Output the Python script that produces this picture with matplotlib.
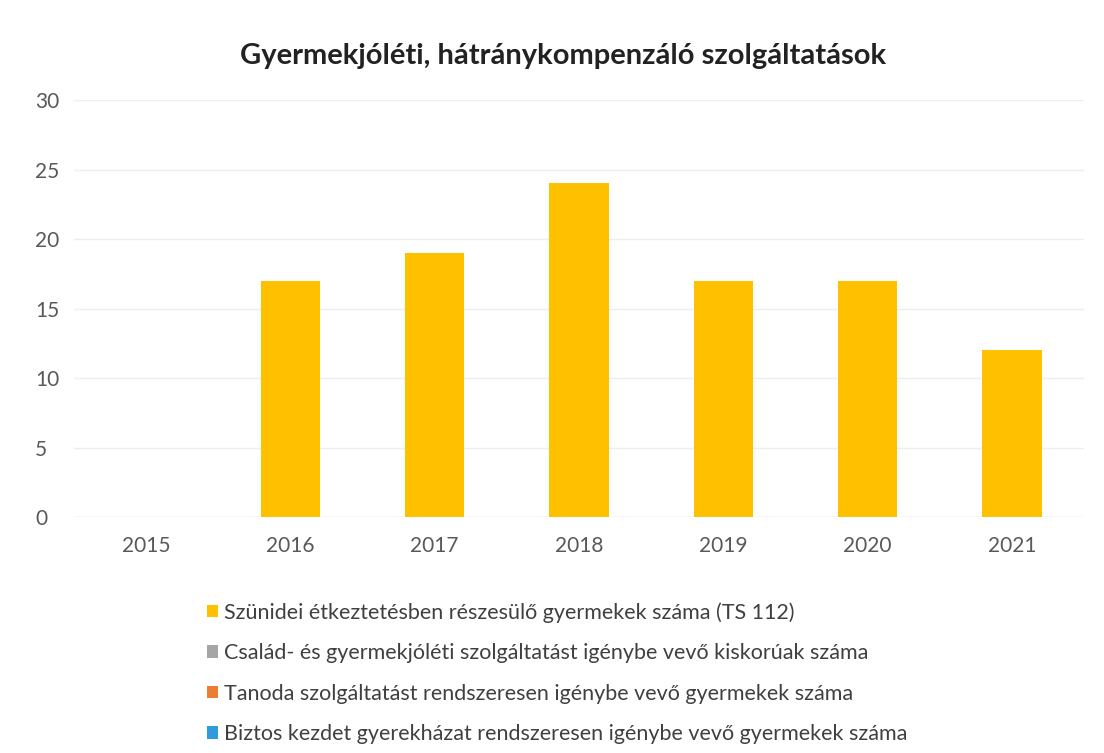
import numpy as np
import matplotlib
matplotlib.use('Agg')
import matplotlib.pyplot as plt
from matplotlib.patches import Patch

years = ['2015', '2016', '2017', '2018', '2019', '2020', '2021']
szunidei = [0, 17, 19, 24, 17, 17, 12]
csaladi = [0, 0, 0, 0, 0, 0, 0]
tanoda = [0, 0, 0, 0, 0, 0, 0]
biztos = [0, 0, 0, 0, 0, 0, 0]

labels = [
    'Szünidei étkeztetésben részesülő gyermekek száma (TS 112)',
    'Család- és gyermekjóléti szolgáltatást igénybe vevő kiskorúak száma',
    'Tanoda szolgáltatást rendszeresen igénybe vevő gyermekek száma',
    'Biztos kezdet gyerekházat rendszeresen igénybe vevő gyermekek száma',
]
colors = ['#FFC000', '#A5A5A5', '#ED7D31', '#2E9BDA']

plt.rcParams['font.family'] = ['Lato', 'DejaVu Sans']

fig = plt.figure(figsize=(11.04, 7.53), dpi=100)
fig.patch.set_facecolor('white')
ax = fig.add_axes([0.067, 0.3134, 0.915, 0.5538])

x = np.arange(len(years))
bottom = np.zeros(len(years))
for vals, col in zip([szunidei, csaladi, tanoda, biztos], colors):
    ax.bar(x, vals, width=0.41, bottom=bottom, color=col, zorder=3)
    bottom += np.array(vals)

ax.set_xlim(-0.5, len(years) - 0.5)
ax.set_ylim(0, 30)
ax.set_yticks(range(0, 31, 5))
ax.set_xticks(x)
ax.set_xticklabels(years)
ax.tick_params(axis='both', length=0, labelsize=15, colors='#595959')
ax.tick_params(axis='x', pad=14)
ax.tick_params(axis='y', pad=28)
for lab in ax.get_yticklabels():
    lab.set_horizontalalignment('left')
ax.grid(axis='y', color='#EEEEEE', linewidth=1, zorder=0)
for s in ax.spines.values():
    s.set_visible(False)
ax.axhline(0, color='#E6E6E6', linewidth=1, zorder=1)

fig.text(0.510, 0.925, 'Gyermekjóléti, hátránykompenzáló szolgáltatások',
         ha='center', va='center', fontsize=21, fontweight='bold', color='#222222')

handles = [Patch(facecolor=c, edgecolor='none') for c in colors]
leg = fig.legend(handles, labels, loc='upper left', bbox_to_anchor=(0.170, 0.226),
                 frameon=False, fontsize=15.5, labelspacing=0.95,
                 handlelength=0.5, handleheight=0.5, handletextpad=0.3)
for t in leg.get_texts():
    t.set_color('#404040')

fig.savefig('out.png', dpi=100, facecolor='white')
